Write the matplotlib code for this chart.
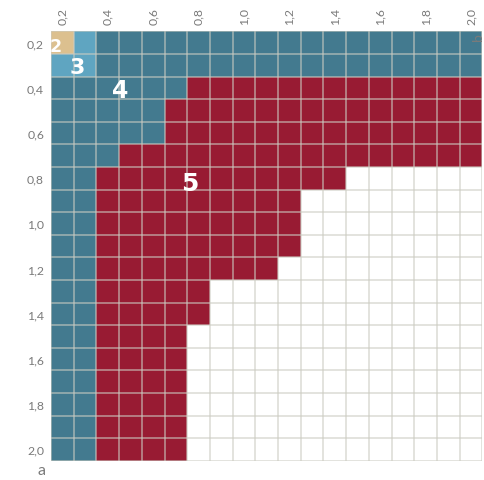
import matplotlib
matplotlib.use("Agg")
import matplotlib.pyplot as plt
import numpy as np
from matplotlib.colors import ListedColormap, BoundaryNorm

# ---- data ----
a_values = [0.2, 0.3, 0.4, 0.5, 0.6, 0.7, 0.8, 0.9, 1.0, 1.1, 1.2, 1.3, 1.4,
            1.5, 1.6, 1.7, 1.8, 1.9, 2.0]          # rows (top -> bottom)
b_values = [0.2, 0.3, 0.4, 0.5, 0.6, 0.7, 0.8, 0.9, 1.0, 1.1, 1.2, 1.3, 1.4,
            1.5, 1.6, 1.7, 1.8, 1.9, 2.0]          # columns (left -> right)

# zone per cell, one string per row (0 = empty, 2..5 = zone number)
zone_rows = [
    "2344444444444444444",
    "3344444444444444444",
    "4444445555555555555",
    "4444455555555555555",
    "4444455555555555555",
    "4445555555555555555",
    "4455555555555000000",
    "4455555555500000000",
    "4455555555500000000",
    "4455555555500000000",
    "4455555555000000000",
    "4455555000000000000",
    "4455555000000000000",
    "4455550000000000000",
    "4455550000000000000",
    "4455550000000000000",
    "4455550000000000000",
    "4455550000000000000",
    "4455550000000000000",
]
tick_labels = ["0,2", "0,4", "0,6", "0,8", "1,0", "1,2", "1,4", "1,6", "1,8", "2,0"]
zone_labels = ["2", "3", "4", "5"]
zone_colors = ["#ffffff", "#dcc08f", "#5fa5c1", "#437a8f", "#981b33"]

Z = np.array([[int(ch) for ch in row] for row in zone_rows])

fig = plt.figure(figsize=(4.84, 4.81), dpi=100)
ax = fig.add_axes([51 / 484, 19.3 / 481, 431.3 / 484, 429.4 / 481])

cmap = ListedColormap(zone_colors)
norm = BoundaryNorm([-0.5, 1, 2.5, 3.5, 4.5, 5.5], cmap.N)
nr, nc = Z.shape
ax.pcolormesh(np.arange(nc + 1), np.arange(nr + 1), Z, cmap=cmap, norm=norm,
              shading="flat", zorder=1)
ax.set_xlim(0, nc)
ax.set_ylim(nr, 0)

grid_col = (0.80, 0.80, 0.76, 0.7)
for k in range(nc + 1):
    ax.axvline(k, color=grid_col, lw=1.1, zorder=2)
for k in range(nr + 1):
    ax.axhline(k, color=grid_col, lw=1.1, zorder=2)
for s in ax.spines.values():
    s.set_visible(False)

# ticks
xt = [b_values.index(v) + 0.5 for v in [0.2, 0.4, 0.6, 0.8, 1.0, 1.2, 1.4, 1.6, 1.8, 2.0]]
yt = [a_values.index(v) + 0.5 for v in [0.2, 0.4, 0.6, 0.8, 1.0, 1.2, 1.4, 1.6, 1.8, 2.0]]
ax.xaxis.tick_top()
ax.set_xticks(xt)
ax.set_xticklabels(tick_labels, rotation=90, fontsize=8.8, color="#7a7a7a",
                   family=["Lato", "DejaVu Sans"])
ax.set_yticks(yt)
ax.set_yticklabels(tick_labels, fontsize=8.8, color="#7a7a7a",
                   family=["Lato", "DejaVu Sans"])
ax.tick_params(length=0, pad=5)

# zone numbers
label_pos = [(0.22, 0.63, 12.5), (1.15, 1.6, 16), (3.05, 2.6, 17), (6.1, 6.7, 18)]
for txt, (x, y, fs) in zip(zone_labels, label_pos):
    ax.text(x, y, txt, color="white", fontsize=fs, fontweight="bold",
            ha="center", va="center", zorder=3, family=["DejaVu Sans"])

fig.text(42 / 484, 1 - 471 / 481, "a", fontsize=11.5, color="#7a7a7a",
         ha="center", va="center", family=["Lato", "DejaVu Sans"])
fig.text(478 / 484, 1 - 37 / 481, "b", fontsize=10, color="#7a7a7a", rotation=90,
         ha="center", va="center", family=["Lato", "DejaVu Sans"], zorder=10)

fig.savefig("out.png", dpi=100)
